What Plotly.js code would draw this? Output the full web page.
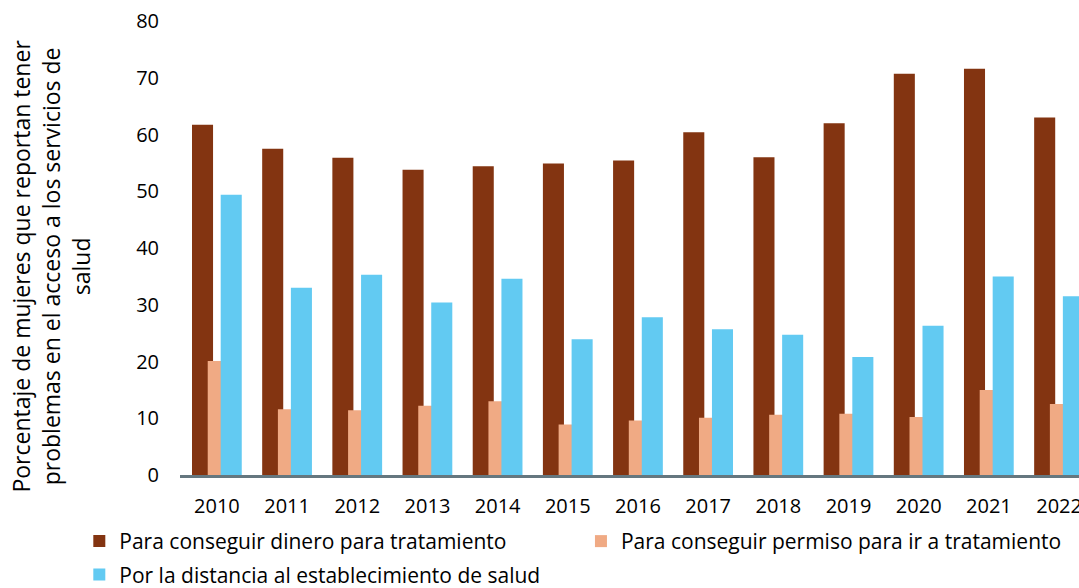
<!DOCTYPE html>
<html>
<head>
<meta charset="utf-8">
<script src="https://cdn.plot.ly/plotly-3.0.1.min.js"></script>
<style>
  html, body { margin: 0; padding: 0; background: #fff; }
  #chart { width: 1079px; height: 588px; }
</style>
</head>
<body>
<div id="chart"></div>
<script>
var years = ['2010','2011','2012','2013','2014','2015','2016','2017','2018','2019','2020','2021','2022'];
var dinero = [61.7, 57.5, 55.9, 53.8, 54.4, 54.9, 55.4, 60.4, 56.0, 62.0, 70.7, 71.6, 63.0];
var permiso = [20.1, 11.6, 11.4, 12.2, 13.0, 8.9, 9.6, 10.1, 10.6, 10.8, 10.2, 15.0, 12.5];
var distancia = [49.4, 33.0, 35.3, 30.4, 34.6, 23.9, 27.8, 25.7, 24.7, 20.8, 26.3, 35.0, 31.5];

var names = ['Para conseguir dinero para tratamiento',
             'Para conseguir permiso para ir a tratamiento',
             'Por la distancia al establecimiento de salud'];
var colors = ['#833411', '#f0aa84', '#62caf2'];

var font = "'Open Sans', sans-serif";

// bars overlap a little, like the original excel chart
var trace1 = {
  x: years, y: dinero, type: 'bar', name: names[0],
  marker: {color: colors[0]}, width: 0.3, offset: -0.355,
  legend: 'legend', legendgroup: 'a'
};
var trace2 = {
  x: years, y: permiso, type: 'bar', name: names[1],
  marker: {color: colors[1]}, width: 0.3, offset: -0.131,
  legend: 'legend2', legendgroup: 'b'
};
var trace3 = {
  x: years, y: distancia, type: 'bar', name: names[2],
  marker: {color: colors[2]}, width: 0.3, offset: 0.054,
  legend: 'legend', legendgroup: 'c'
};

var legendFont = {family: font, size: 21, color: '#000'};

var layout = {
  width: 1079,
  height: 588,
  margin: {l: 180, r: 0, t: 21, b: 113},
  paper_bgcolor: '#fff',
  plot_bgcolor: '#fff',
  barmode: 'overlay',
  font: {family: font, size: 20, color: '#000'},
  xaxis: {
    type: 'category',
    range: [-0.526, 12.284],
    showline: true,
    linecolor: '#65777f',
    linewidth: 3,
    showgrid: false,
    ticks: '',
    ticklabelstandoff: 11,
    tickfont: {family: font, size: 20, color: '#000'}
  },
  yaxis: {
    range: [0, 80],
    dtick: 10,
    showgrid: false,
    zeroline: false,
    showline: false,
    ticks: '',
    ticklabelstandoff: 20,
    tickfont: {family: font, size: 20, color: '#000'}
  },
  showlegend: true,
  legend: {
    orientation: 'v',
    x: -0.112, xanchor: 'left',
    yref: 'container', y: 0.114, yanchor: 'top',
    traceorder: 'grouped',
    tracegroupgap: 3,
    font: legendFont
  },
  legend2: {
    orientation: 'v',
    x: 0.446, xanchor: 'left',
    yref: 'container', y: 0.114, yanchor: 'top',
    font: legendFont
  },
  annotations: [{
    text: 'Porcentaje de mujeres que reportan tener<br>problemas en el acceso a los servicios de<br>salud',
    xref: 'paper', yref: 'paper',
    x: -0.143, y: 0.46,
    xanchor: 'center', yanchor: 'middle',
    textangle: -90,
    showarrow: false,
    font: {family: font, size: 23, color: '#000'}
  }]
};

Plotly.newPlot('chart', [trace1, trace2, trace3], layout, {displayModeBar: false});
</script>
</body>
</html>
